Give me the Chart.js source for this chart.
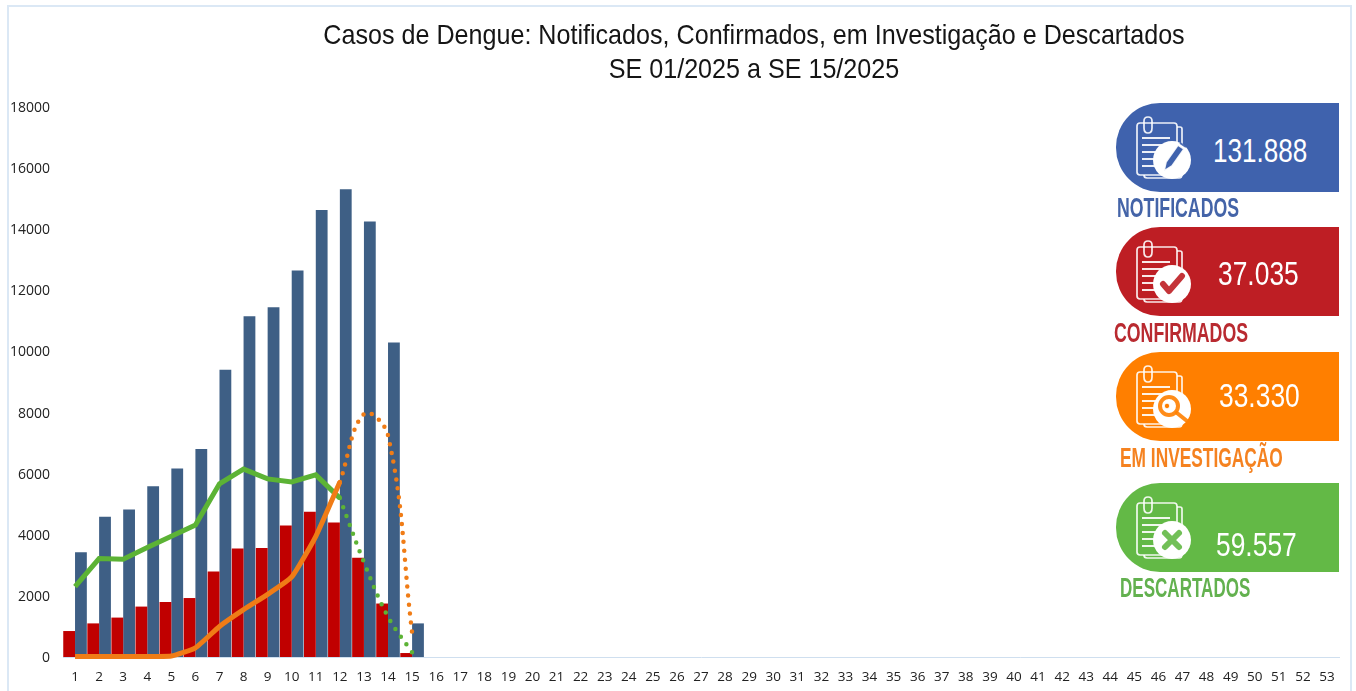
<!DOCTYPE html>
<html lang="pt"><head><meta charset="utf-8">
<script src="https://cdn.jsdelivr.net/npm/chart.js@4"></script>
<style>
html,body{margin:0;padding:0;background:#fff;overflow:hidden}
#wrap{position:relative;width:1356px;height:691px;overflow:hidden}
#frame{position:absolute;left:7px;top:5px;width:1345px;height:700px;border:2px solid #dbe8f5;box-sizing:border-box}
canvas#c{position:absolute;left:0;top:0}
.title{position:absolute;left:254px;width:1000px;text-align:center;font-family:"Liberation Sans",Arial,sans-serif;font-size:28px;color:#151515;transform:scaleX(.897);white-space:nowrap}
.panel{position:absolute;left:1116px;width:223px;height:89px;border-radius:44px 0 0 44px}
.num{position:absolute;color:#fff;font-family:"Liberation Sans",Arial,sans-serif;font-size:33px;transform-origin:left top;white-space:nowrap}
.lab{position:absolute;font-family:"Liberation Sans","Liberation Sans Narrow",sans-serif;font-weight:700;font-size:27px;transform-origin:left top;white-space:nowrap}
svg.ic{position:absolute;left:1135px;width:60px;height:70px;overflow:visible}
</style></head><body><div id="wrap">
<div id="frame"></div>
<canvas id="c" width="1356" height="691"></canvas>
<div class="title" style="top:19px">Casos de Dengue: Notificados, Confirmados, em Investigação e Descartados</div>
<div class="title" style="top:53px">SE 01/2025 a SE 15/2025</div>
<div id="side"></div>
</div>
<script>
const categories = Array.from({length:53},(_, i)=>String(i+1));
const yTicks = [0,2000,4000,6000,8000,10000,12000,14000,16000,18000];
const notificados = [3430,4590,4830,5590,6170,6810,9400,11150,11450,12650,14630,15310,14250,10290,1100];
const confirmados = [850,1100,1290,1650,1800,1930,2800,3550,3570,4300,4750,4400,3250,1750,130];
const descartadosSolid = [2300,3220,3200,3580,3950,4320,5670,6150,5830,5730,5960,5200];
const descartadosDotted = [null,null,null,null,null,null,null,null,null,null,null,5200,3100,1310,150];
const investigacaoSolid = [20,20,20,20,30,300,1000,1550,2050,2620,3950,5730];
const investigacaoDotted = [null,null,null,null,null,null,null,null,null,null,null,5730,7950,7250,800];
const cards = [
 {value:'131.888',label:'NOTIFICADOS',color:'#3f62ad',labelColor:'#4464a8',top:103,nx:1213,ny:132,nsx:.79,lx:1117,ly:193,sx:.656,glyph:'pen'},
 {value:'37.035',label:'CONFIRMADOS',color:'#be1e24',labelColor:'#b92a30',top:227,nx:1218,ny:255,nsx:.8,lx:1114,ly:318,sx:.657,glyph:'check'},
 {value:'33.330',label:'EM INVESTIGAÇÃO',color:'#ff7f00',labelColor:'#f58220',top:352,nx:1219,ny:377,nsx:.8,lx:1120,ly:443,sx:.642,glyph:'search'},
 {value:'59.557',label:'DESCARTADOS',color:'#63b946',labelColor:'#63b14f',top:483,nx:1216,ny:526,nsx:.8,lx:1120,ly:573,sx:.631,glyph:'x'}
];
const side=document.getElementById('side');
function glyph(kind,color){
  if(kind==='pen')return `<path d="M29 53 L31 44 L43 27 L49 31 L37 48 Z" fill="${color}"/><path d="M45 25 L51 29" stroke="${color}" stroke-width="2"/>`;
  if(kind==='check')return `<path d="M28 42 L34 49 L47 34" fill="none" stroke="${color}" stroke-width="6" stroke-linecap="round" stroke-linejoin="round"/>`;
  if(kind==='search')return `<circle cx="34" cy="39" r="9" fill="none" stroke="${color}" stroke-width="4"/><circle cx="32" cy="39" r="3" fill="${color}"/><path d="M42 46 L52 54" stroke="${color}" stroke-width="4" stroke-linecap="round"/>`;
  return `<path d="M30 35 L44 49 M44 35 L30 49" stroke="${color}" stroke-width="6" stroke-linecap="round"/>`;
}
cards.forEach(k=>{
  side.insertAdjacentHTML('beforeend',`<div class="panel" style="top:${k.top}px;background:${k.color}"></div>
  <svg class="ic" viewBox="0 0 60 70" style="top:${k.top+15}px" fill="none" stroke="#fff" stroke-width="1.7" stroke-opacity=".9">
    <path d="M5 5 H39 Q42 5 42 8 V54 Q42 57 39 57 H5 Q2 57 2 54 V8 Q2 5 5 5 Z"/>
    <path d="M42 9 H45 Q47 9 47 11 V56 Q47 60 44 60 H12 Q9 60 9 57"/>
    <path d="M9 5 V10 Q9 15 13 15 Q17 15 17 10 V3 Q17 -1 13 -1 Q9 -1 9 3 V9"/>
    <path d="M7 20 H35 M7 27 H35 M7 34 H24 M7 41 H22 M7 48 H22" stroke-width="2"/>
    <circle cx="37" cy="42" r="19" fill="#fff" stroke="none"/>${glyph(k.glyph,k.color)}
  </svg>
  <div class="num" style="left:${k.nx}px;top:${k.ny}px;transform:scaleX(${k.nsx})">${k.value}</div>
  <div class="lab" style="left:${k.lx}px;top:${k.ly}px;color:${k.labelColor};transform:scaleX(${k.sx})">${k.label}</div>`);
});
const fontFamily='"Open Sans","Liberation Sans",sans-serif';
new Chart(document.getElementById('c'),{
  data:{labels:categories,datasets:[
    {type:'line',label:'Descartados',data:descartadosSolid,borderColor:'#5cb335',borderWidth:5,pointRadius:0,tension:0,order:1,clip:false},
    {type:'line',label:'Descartados (parcial)',data:descartadosDotted,borderColor:'#5cb335',borderWidth:4.5,borderDash:[0,9.5],borderCapStyle:'round',pointRadius:0,tension:.35,order:1,clip:false},
    {type:'line',label:'Em investigação',data:investigacaoSolid,borderColor:'#f07c16',borderWidth:5,pointRadius:0,tension:.15,order:0,clip:false},
    {type:'line',label:'Em investigação (parcial)',data:investigacaoDotted,borderColor:'#f07c16',borderWidth:4.5,borderDash:[0,9],borderCapStyle:'round',pointRadius:0,tension:.4,order:0,clip:false},
    {type:'bar',label:'Confirmados',data:confirmados,backgroundColor:'#c00000',barPercentage:1,categoryPercentage:.98,order:3},
    {type:'bar',label:'Notificados',data:notificados,backgroundColor:'#3e5f85',barPercentage:1,categoryPercentage:.98,order:3}
  ]},
  options:{
    responsive:false,animation:false,
    layout:{padding:{left:0,right:17,top:107,bottom:0}},
    plugins:{legend:{display:false},title:{display:false},tooltip:{enabled:false}},
    scales:{
      x:{afterFit:a=>{a.height=34},grid:{display:false},border:{color:'#cfdfef',width:1},ticks:{color:'#222',font:{family:fontFamily,size:13.5},maxRotation:0,autoSkip:false,padding:4}},
      y:{min:0,max:18000,afterBuildTicks:a=>{a.ticks=yTicks.map(v=>({value:v}))},afterFit:a=>{a.width=63},grid:{display:false},border:{display:false},ticks:{color:'#222',font:{family:fontFamily,size:14},padding:5,labelOffset:1,callback:v=>String(v)}}
    }
  }
});
</script></body></html>
